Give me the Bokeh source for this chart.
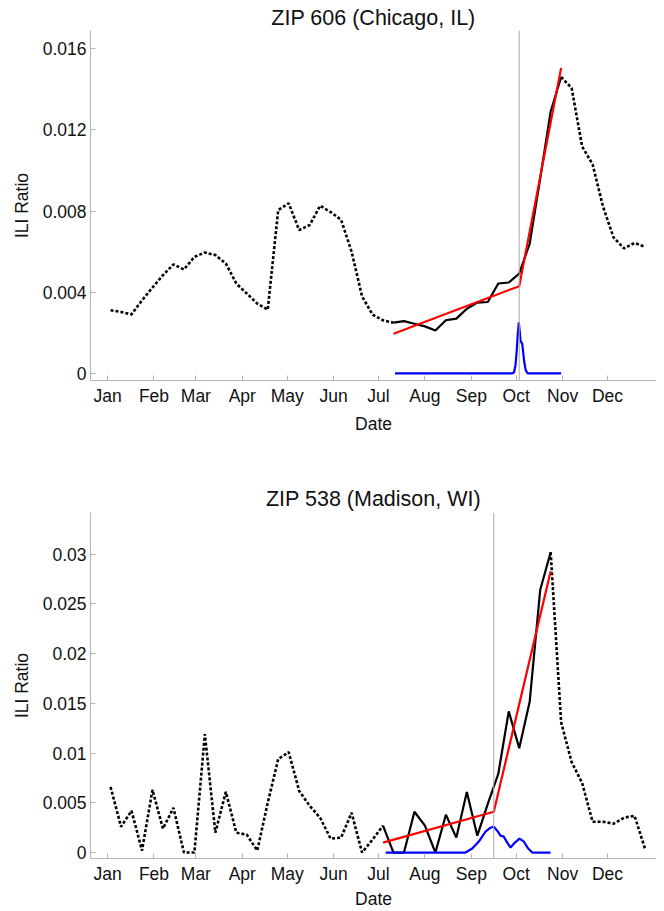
import pandas as pd
from bokeh.plotting import figure
from bokeh.layouts import column
from bokeh.models import Range1d, FixedTicker, CustomJSTickFormatter, Span
from bokeh.embed import file_html
from bokeh.resources import INLINE

# ---------------- data ----------------
YEAR_START = pd.Timestamp("2009-01-01")
MONTHS = ["Jan", "Feb", "Mar", "Apr", "May", "Jun", "Jul", "Aug", "Sep", "Oct", "Nov", "Dec"]
MONTH_STARTS = pd.date_range("2009-01-01", periods=12, freq="MS")
WEEKS = pd.date_range("2009-01-03", periods=52, freq="7D")
X_LABEL = "Date"
Y_LABEL = "ILI Ratio"

# ZIP 606 (Chicago, IL)
CHI_TITLE = "ZIP 606 (Chicago, IL)"
CHI_Y_TICKS = [0, 0.004, 0.008, 0.012, 0.016]
CHI_EARLY = [0.00311, 0.00303, 0.00291, 0.00360, 0.00423, 0.00484, 0.00537, 0.00512,
             0.00574, 0.00596, 0.00583, 0.00542, 0.00443, 0.00394, 0.00344, 0.00314,
             0.00805, 0.00838, 0.00706, 0.00731, 0.00826, 0.00795, 0.00757, 0.00600,
             0.00380, 0.00290, 0.00262, 0.00250]            # weeks 0..27
CHI_FIT = [0.00250, 0.00258, 0.00245, 0.00232, 0.00212, 0.00262, 0.00270, 0.00319,
           0.00349, 0.00352, 0.00443, 0.00448, 0.00492, 0.00640, 0.00960, 0.01290,
           0.01460]                                        # weeks 27..43
CHI_LATE = [0.01460, 0.01406, 0.01118, 0.01030, 0.00821, 0.00670, 0.00616, 0.00643,
            0.00624]                                       # weeks 43..51
CHI_LINE_DATES = ["2009-07-11", "2009-10-03", "2009-10-31"]
CHI_LINE_VALS = [0.00196, 0.00430, 0.01505]
CHI_CHANGE = "2009-10-03"
CHI_POST_DAYS = [192, 270, 271.5, 272.5, 273.3, 274.0, 274.7, 275.3, 275.9, 277.0,
                 277.7, 278.3, 279.2, 280.4, 281.5, 303]
CHI_POST_VALS = [0, 0, 0.00005, 0.0004, 0.0011, 0.0019, 0.00252, 0.0021, 0.0016, 0.00146,
                 0.0010, 0.0006, 0.0002, 0.00002, 0, 0]

# ZIP 538 (Madison, WI)
MAD_TITLE = "ZIP 538 (Madison, WI)"
MAD_Y_TICKS = [0, 0.005, 0.01, 0.015, 0.02, 0.025, 0.03]
MAD_EARLY = [0.0066, 0.0026, 0.0042, 0.0002, 0.0063, 0.0024, 0.0045, 0.0000, 0.0000,
             0.0119, 0.0020, 0.0061, 0.0020, 0.0018, 0.0002, 0.0050, 0.0094, 0.0101,
             0.0062, 0.0047, 0.0035, 0.0014, 0.0015, 0.0040, 0.0000, 0.0013, 0.0027]  # weeks 0..26
MAD_FIT = [0.0027, 0.0000, 0.0000, 0.0041, 0.0027, 0.0000, 0.0038, 0.0015, 0.0061,
           0.0017, 0.0049, 0.0079, 0.0142, 0.0105, 0.0152, 0.0264, 0.0302]          # weeks 26..42
MAD_LATE = [0.0302, 0.0131, 0.0091, 0.0070, 0.0031, 0.0031, 0.0029, 0.0035, 0.0037,
            0.0004]                                                                # weeks 42..51
MAD_LINE_DATES = ["2009-07-04", "2009-09-16", "2009-10-24"]
MAD_LINE_VALS = [0.0010, 0.0041, 0.0283]
MAD_CHANGE = "2009-09-16"
MAD_POST_DAYS = [185.8, 239.1, 243.6, 248.0, 252.5, 255.8, 258.0, 260.3, 262.5, 264.7,
                 267.0, 269.2, 272.1, 275.2, 278.1, 281.0, 283.7, 295.9]
MAD_POST_VALS = [0, 0, 0.0004, 0.0011, 0.0021, 0.0025, 0.0026, 0.0022, 0.0017, 0.0016,
                 0.0010, 0.0005, 0.0010, 0.0014, 0.0011, 0.0004, 0.0, 0]

X_START = YEAR_START + pd.Timedelta(days=-11.4)
X_END = YEAR_START + pd.Timedelta(days=366.7)

FONT = "Liberation Sans"
AXIS_GRAY = "#b4b4b4"
TEXT_COLOR = "#111111"


def days_to_dates(days):
    return [YEAR_START + pd.Timedelta(days=d) for d in days]


def make_panel(title, yticks, yrange, early, fit, late, line_dates, line_vals, change,
               post_days, post_vals, height, border_top, border_bottom, title_standoff,
               xlabel_standoff):
    n_early = len(early)
    n_fit = len(fit)
    p = figure(width=656, height=height, x_axis_type="datetime",
               x_range=Range1d(X_START, X_END), y_range=Range1d(*yrange),
               output_backend="svg", toolbar_location=None,
               min_border_left=90, min_border_right=0,
               min_border_top=border_top, min_border_bottom=border_bottom)
    p.title.text = title
    p.title.align = "center"
    p.title.text_font = FONT
    p.title.text_font_size = "21.5px"
    p.title.text_font_style = "normal"
    p.title.text_color = TEXT_COLOR
    p.title.standoff = title_standoff
    p.title.offset = 0
    p.outline_line_color = None
    p.xgrid.grid_line_color = None
    p.ygrid.grid_line_color = None
    p.background_fill_color = "white"
    p.border_fill_color = "white"

    span = Span(location=pd.Timestamp(change), dimension="height",
                line_color="#aaaaaa", line_width=1)
    p.add_layout(span)

    w_early = list(WEEKS[:n_early])
    w_fit = list(WEEKS[n_early - 1:n_early - 1 + n_fit])
    w_late = list(WEEKS[n_early + n_fit - 2:n_early + n_fit - 2 + len(late)])

    p.line(w_early, early, line_color="black", line_width=2.6, line_dash="3 2")
    p.line(w_late, late, line_color="black", line_width=2.6, line_dash="3 2")
    p.line(w_fit, fit, line_color="black", line_width=2.2)
    p.line([pd.Timestamp(d) for d in line_dates], line_vals, line_color="#ff0000", line_width=2.2)
    p.line(days_to_dates(post_days), post_vals, line_color="#0000ff", line_width=2.2)

    for ax in (p.xaxis[0], p.yaxis[0]):
        ax.axis_line_color = AXIS_GRAY
        ax.major_tick_line_color = AXIS_GRAY
        ax.major_tick_in = 5
        ax.major_tick_out = 0
        ax.minor_tick_line_color = None
        ax.major_label_text_font = FONT
        ax.major_label_text_font_size = "17.5px"
        ax.major_label_text_color = TEXT_COLOR
        ax.axis_label_text_font = FONT
        ax.axis_label_text_font_size = "17.5px"
        ax.axis_label_text_font_style = "normal"
        ax.axis_label_text_color = TEXT_COLOR

    p.xaxis.axis_label = X_LABEL
    p.xaxis.ticker = FixedTicker(ticks=[t.value / 1e6 for t in MONTH_STARTS])
    p.xaxis.formatter = CustomJSTickFormatter(
        args=dict(names=MONTHS),
        code="const d = new Date(tick); return names[d.getUTCMonth()];")
    p.xaxis.major_label_standoff = 5
    p.xaxis.axis_label_standoff = xlabel_standoff

    p.yaxis.axis_label = Y_LABEL
    p.yaxis.ticker = FixedTicker(ticks=yticks)
    p.yaxis.formatter = CustomJSTickFormatter(
        code="return parseFloat(tick.toPrecision(6)).toString();")
    p.yaxis.major_label_standoff = 4
    p.yaxis.axis_label_standoff = 8
    return p


p1 = make_panel(CHI_TITLE, CHI_Y_TICKS, (-0.000346, 0.01689), CHI_EARLY, CHI_FIT, CHI_LATE,
                CHI_LINE_DATES, CHI_LINE_VALS, CHI_CHANGE, CHI_POST_DAYS, CHI_POST_VALS,
                height=480, border_top=30, border_bottom=100, title_standoff=2,
                xlabel_standoff=5)
p2 = make_panel(MAD_TITLE, MAD_Y_TICKS, (-0.0006, 0.0342), MAD_EARLY, MAD_FIT, MAD_LATE,
                MAD_LINE_DATES, MAD_LINE_VALS, MAD_CHANGE, MAD_POST_DAYS, MAD_POST_VALS,
                height=431, border_top=32, border_bottom=20, title_standoff=4,
                xlabel_standoff=2)

layout = column(p1, p2)
open("out.html", "w").write(file_html(layout, INLINE))
